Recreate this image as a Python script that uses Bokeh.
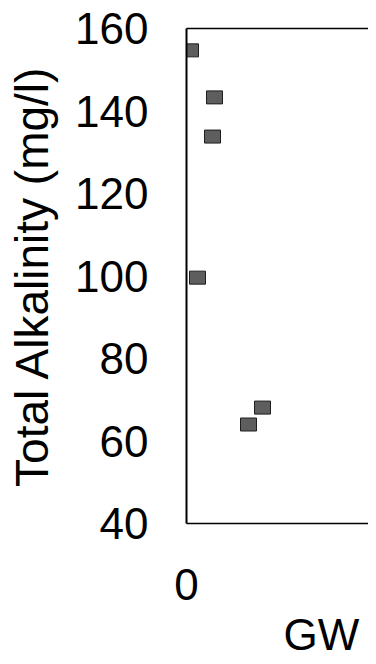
from bokeh.plotting import figure
from bokeh.models import LinearAxis, FixedTicker, Range1d, Title
from bokeh.embed import file_html
from bokeh.resources import INLINE

# Data
x_pos = [0.2, 1.4, 1.3, 0.55, 3.8, 3.1]
alkalinity = [154.7, 143.3, 133.8, 99.6, 68.1, 64.0]
y_ticks = [40, 60, 80, 100, 120, 140, 160]
x_ticks = [0]
y_label = "Total Alkalinity (mg/l)"
x_label = "GW"

FONT = "Liberation Sans"

p = figure(width=368, height=664, output_backend="svg", toolbar_location=None,
           x_range=Range1d(0, 9.1), y_range=Range1d(40, 160),
           min_border_left=186, min_border_right=0, min_border_top=28,
           min_border_bottom=141, x_axis_location="below")
p.grid.visible = False
p.outline_line_color = None
p.background_fill_color = "white"
p.border_fill_color = "white"

p.rect(x=x_pos, y=alkalinity, width=16, height=13,
       width_units="screen", height_units="screen",
       fill_color="#5e5e5e", line_color="#1e1e1e", line_width=1)

ya = p.yaxis[0]
ya.ticker = FixedTicker(ticks=y_ticks)
ya.axis_line_width = 2
ya.axis_line_color = "black"
ya.major_tick_line_color = None
ya.major_tick_out = 0
ya.major_tick_in = 0
ya.minor_tick_line_color = None
ya.minor_tick_out = 0
ya.major_label_standoff = 38
ya.major_label_text_font = FONT
ya.major_label_text_font_size = "44px"
ya.major_label_text_color = "black"
ya.axis_label = y_label
ya.axis_label_text_font = FONT
ya.axis_label_text_font_size = "46px"
ya.axis_label_text_font_style = "normal"
ya.axis_label_text_color = "black"
ya.axis_label_standoff = 14

xa = p.xaxis[0]
xa.ticker = FixedTicker(ticks=x_ticks)
xa.axis_line_width = 1.5
xa.axis_line_color = "black"
xa.major_tick_line_color = None
xa.major_tick_out = 0
xa.major_tick_in = 0
xa.minor_tick_line_color = None
xa.minor_tick_out = 0
xa.major_label_standoff = 45
xa.major_label_text_font = FONT
xa.major_label_text_font_size = "44px"
xa.major_label_text_color = "black"

gw = Title(text=x_label, align="left", offset=97, standoff=10,
           text_font=FONT, text_font_size="44px", text_font_style="normal",
           text_color="black")
p.add_layout(gw, "below")

top = LinearAxis(ticker=FixedTicker(ticks=[]), axis_line_width=1.5,
                 axis_line_color="black", major_tick_line_color=None,
                 major_tick_out=0, minor_tick_out=0,
                 minor_tick_line_color=None, major_label_text_font_size="0px")
p.add_layout(top, "above")

open("out.html", "w").write(file_html(p, INLINE))
